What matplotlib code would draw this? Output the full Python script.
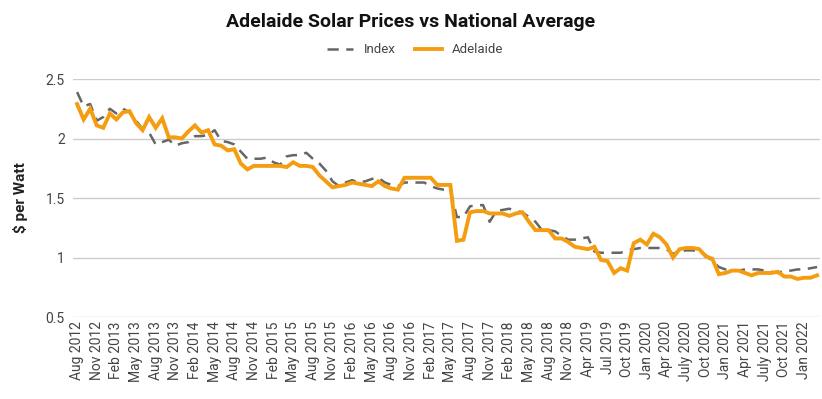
import matplotlib
matplotlib.use("Agg")
import matplotlib.pyplot as plt

plt.rcParams['font.family'] = ['Roboto', 'DejaVu Sans']

# every third category gets a label
tick_labels = [
    'Aug 2012', 'Nov 2012', 'Feb 2013', 'May 2013', 'Aug 2013', 'Nov 2013',
    'Feb 2014', 'May 2014', 'Aug 2014', 'Nov 2014', 'Feb 2015', 'May 2015',
    'Aug 2015', 'Nov 2015', 'Feb 2016', 'May 2016', 'Aug 2016', 'Nov 2016',
    'Feb 2017', 'May 2017', 'Aug 2017', 'Nov 2017', 'Feb 2018', 'May 2018',
    'Aug 2018', 'Nov 2018', 'Apr 2019', 'Jul 2019', 'Oct 2019', 'Jan 2020',
    'Apr 2020', 'July 2020', 'Oct 2020', 'Jan 2021', 'Apr 2021', 'July 2021',
    'Oct 2021', 'Jan 2022',
]

index_prices = [
    2.39, 2.27, 2.29, 2.15, 2.18, 2.25, 2.21, 2.25, 2.22, 2.15,
    2.08, 2.05, 1.95, 1.97, 1.99, 1.94, 1.96, 1.97, 2.02, 2.02,
    2.03, 2.07, 1.98, 1.97, 1.95, 1.89, 1.83, 1.83, 1.83, 1.84,
    1.80, 1.78, 1.85, 1.86, 1.86, 1.88, 1.83, 1.79, 1.73, 1.64,
    1.60, 1.63, 1.65, 1.63, 1.64, 1.66, 1.67, 1.63, 1.61, 1.60,
    1.63, 1.63, 1.63, 1.63, 1.60, 1.58, 1.57, 1.57, 1.34, 1.34,
    1.43, 1.44, 1.44, 1.30, 1.39, 1.40, 1.41, 1.39, 1.38, 1.34,
    1.30, 1.23, 1.23, 1.22, 1.18, 1.15, 1.15, 1.16, 1.17, 1.05,
    1.04, 1.04, 1.04, 1.04, 1.06, 1.07, 1.08, 1.08, 1.08, 1.08,
    1.07, 1.03, 1.05, 1.06, 1.06, 1.05, 1.02, 0.97, 0.92, 0.90,
    0.89, 0.89, 0.90, 0.90, 0.90, 0.89, 0.88, 0.87, 0.89, 0.89,
    0.90, 0.90, 0.91, 0.92,
]

adelaide_prices = [
    2.29, 2.16, 2.25, 2.11, 2.09, 2.21, 2.16, 2.22, 2.23, 2.13,
    2.07, 2.18, 2.09, 2.17, 2.01, 2.01, 2.00, 2.06, 2.11, 2.05,
    2.07, 1.95, 1.94, 1.90, 1.91, 1.79, 1.74, 1.77, 1.77, 1.77,
    1.77, 1.77, 1.76, 1.80, 1.77, 1.77, 1.76, 1.69, 1.64, 1.59,
    1.60, 1.61, 1.63, 1.62, 1.61, 1.60, 1.64, 1.60, 1.58, 1.57,
    1.67, 1.67, 1.67, 1.67, 1.67, 1.61, 1.61, 1.61, 1.14, 1.15,
    1.38, 1.39, 1.39, 1.37, 1.37, 1.37, 1.35, 1.37, 1.38, 1.30,
    1.23, 1.23, 1.23, 1.16, 1.16, 1.13, 1.09, 1.08, 1.07, 1.09,
    0.98, 0.97, 0.87, 0.91, 0.89, 1.12, 1.15, 1.11, 1.20, 1.17,
    1.11, 1.00, 1.07, 1.08, 1.08, 1.07, 1.01, 0.99, 0.86, 0.87,
    0.89, 0.89, 0.87, 0.85, 0.87, 0.87, 0.87, 0.88, 0.84, 0.84,
    0.82, 0.83, 0.83, 0.85,
]

y_ticks = [0.5, 1, 1.5, 2, 2.5]

x = list(range(len(adelaide_prices)))

fig = plt.figure(figsize=(8.22, 3.99), dpi=100)
ax = fig.add_axes([0.089, 0.2055, 0.909, 0.5965])

ax.plot(x, index_prices, color='#666666', linewidth=1.8, linestyle=(0, (4.5, 3)), label='Index')
ax.plot(x, adelaide_prices, color='#f59d10', linewidth=2.8, solid_joinstyle='miter', label='Adelaide')

ax.set_ylim(0.5, 2.5)
ax.set_yticks(y_ticks)
ax.set_yticklabels([format(v, 'g') for v in y_ticks])
ax.set_xlim(-0.6, len(x) - 0.5)
ax.set_xticks(x[::3])
ax.set_xticklabels(tick_labels, rotation=90)

ax.grid(axis='y', color='#cccccc', linewidth=1)
ax.set_axisbelow(True)
for s in ax.spines.values():
    s.set_visible(False)
ax.tick_params(length=0, colors='#444444', labelsize=10)
ax.tick_params(axis='x', pad=3)
ax.tick_params(axis='y', pad=6)

ax.set_ylabel(r'\$ per Watt', fontsize=11, fontweight='bold', color='#222222', labelpad=13)

fig.text(0.5, 0.945, 'Adelaide Solar Prices vs National Average', ha='center', va='center',
         fontsize=14, fontweight='bold', color='#111111')
fig.legend(loc='center', bbox_to_anchor=(0.505, 0.875), ncol=2, frameon=False, fontsize=9.5,
           handlelength=2.0, columnspacing=1.5, labelcolor='#444444')

fig.savefig('out.png', dpi=100)
